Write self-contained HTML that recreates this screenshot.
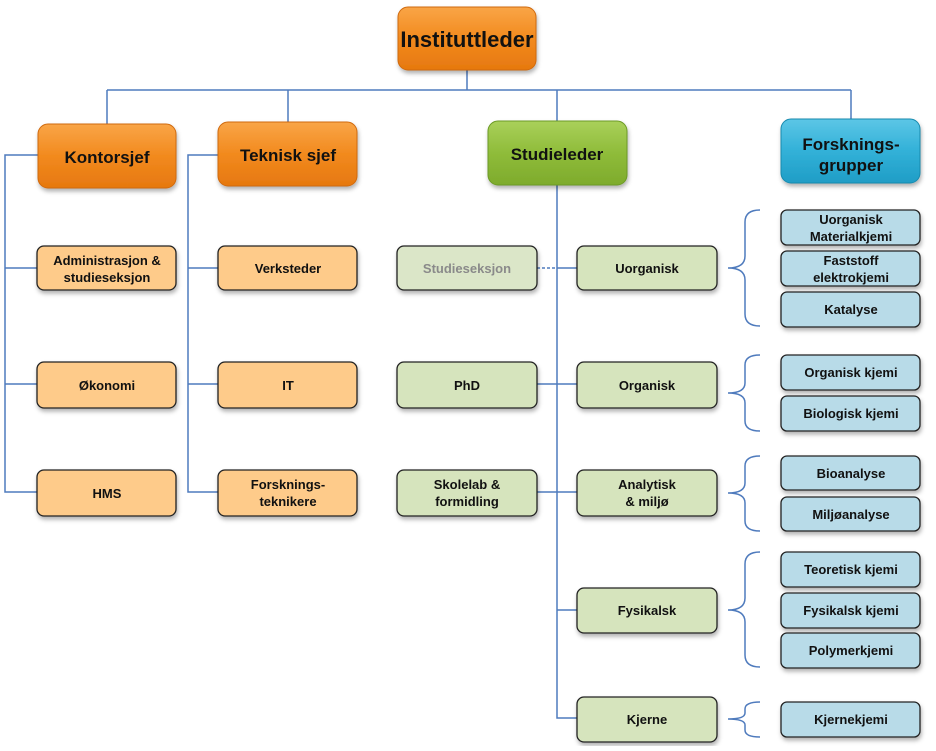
<!DOCTYPE html>
<html><head><meta charset="utf-8"><style>
html,body{margin:0;padding:0;background:#fff;}
svg text{font-family:"Liberation Sans",Arial,sans-serif;font-weight:bold;text-anchor:middle;fill:#111;}
</style></head><body>
<svg width="936" height="746" viewBox="0 0 936 746" xmlns="http://www.w3.org/2000/svg">
<defs>
<linearGradient id="og" x1="0" y1="0" x2="0" y2="1"><stop offset="0" stop-color="#f9a547"/><stop offset="0.5" stop-color="#f28a1e"/><stop offset="1" stop-color="#e6780f"/></linearGradient>
<linearGradient id="gg" x1="0" y1="0" x2="0" y2="1"><stop offset="0" stop-color="#a9d05a"/><stop offset="0.5" stop-color="#8fbc3a"/><stop offset="1" stop-color="#7eab2c"/></linearGradient>
<linearGradient id="bg" x1="0" y1="0" x2="0" y2="1"><stop offset="0" stop-color="#5cc6e6"/><stop offset="0.5" stop-color="#32b1d8"/><stop offset="1" stop-color="#1f9dc6"/></linearGradient>
<filter id="sh" x="-10%" y="-10%" width="130%" height="140%"><feDropShadow dx="1" dy="3" stdDeviation="2" flood-color="#000" flood-opacity="0.3"/></filter>
</defs>
<g stroke="#4f7bbd" stroke-width="1.5" fill="none">
<path d="M467 70V90M107 90H851M107 90V124M288 90V122M557 90V121M851 90V119"/>
<path d="M38 155H5V492H37M5 268H37M5 384H37"/>
<path d="M218 155H188V492H218M188 268H218M188 384H218"/>
<path d="M557 185V718H577M557 268H577M537 384H577M537 492H577M557 610H577"/>
<path d="M537 268H557" stroke-dasharray="3,2"/>
<path d="M760 210Q745 210 745 222V256Q745 268 728 268Q745 268 745 280V314Q745 326 760 326"/>
<path d="M760 355Q745 355 745 365V383Q745 393 728 393Q745 393 745 403V421Q745 431 760 431"/>
<path d="M760 456Q745 456 745 466V483Q745 493 728 493Q745 493 745 503V521Q745 531 760 531"/>
<path d="M760 552Q745 552 745 564V598Q745 610 728 610Q745 610 745 622V655Q745 667 760 667"/>
<path d="M760 702Q745 702 745 709V713Q745 719 728 719Q745 719 745 725V730Q745 737 760 737"/>
</g>
<g filter="url(#sh)" stroke="#d06a10" stroke-width="1">
<rect x="398" y="7" width="138" height="63" rx="10" fill="url(#og)"/>
<rect x="38" y="124" width="138" height="64" rx="10" fill="url(#og)"/>
<rect x="218" y="122" width="139" height="64" rx="10" fill="url(#og)"/>
<rect x="488" y="121" width="139" height="64" rx="10" fill="url(#gg)" stroke="#6c9a25"/>
<rect x="781" y="119" width="139" height="64" rx="10" fill="url(#bg)" stroke="#178aae"/>
</g>
<g filter="url(#sh)" stroke="#222" stroke-width="1.3">
<g fill="#fecb8a">
<rect x="37" y="246" width="139" height="44" rx="7"/>
<rect x="37" y="362" width="139" height="46" rx="7"/>
<rect x="37" y="470" width="139" height="46" rx="7"/>
<rect x="218" y="246" width="139" height="44" rx="7"/>
<rect x="218" y="362" width="139" height="46" rx="7"/>
<rect x="218" y="470" width="139" height="46" rx="7"/>
</g>
<g fill="#d6e4bd">
<rect x="397" y="246" width="140" height="44" rx="7" fill="#dbe6c8"/>
<rect x="397" y="362" width="140" height="46" rx="7"/>
<rect x="397" y="470" width="140" height="46" rx="7"/>
<rect x="577" y="246" width="140" height="44" rx="7"/>
<rect x="577" y="362" width="140" height="46" rx="7"/>
<rect x="577" y="470" width="140" height="46" rx="7"/>
<rect x="577" y="588" width="140" height="45" rx="7"/>
<rect x="577" y="697" width="140" height="45" rx="7"/>
</g>
<g fill="#b8dbe8">
<rect x="781" y="210" width="139" height="35" rx="6"/>
<rect x="781" y="251" width="139" height="35" rx="6"/>
<rect x="781" y="292" width="139" height="35" rx="6"/>
<rect x="781" y="355" width="139" height="35" rx="6"/>
<rect x="781" y="396" width="139" height="35" rx="6"/>
<rect x="781" y="456" width="139" height="34" rx="6"/>
<rect x="781" y="497" width="139" height="34" rx="6"/>
<rect x="781" y="552" width="139" height="35" rx="6"/>
<rect x="781" y="593" width="139" height="35" rx="6"/>
<rect x="781" y="633" width="139" height="35" rx="6"/>
<rect x="781" y="702" width="139" height="35" rx="6"/>
</g>
</g>
<text x="467" y="47" font-size="22">Instituttleder</text>
<text x="107" y="163" font-size="17">Kontorsjef</text>
<text x="288" y="161" font-size="17">Teknisk sjef</text>
<text x="557" y="160" font-size="17">Studieleder</text>
<text x="851" y="150" font-size="17">Forsknings-</text>
<text x="851" y="171" font-size="17">grupper</text>
<g font-size="13">
<text x="107" y="265">Administrasjon &amp;</text><text x="107" y="282">studieseksjon</text>
<text x="107" y="390">Økonomi</text>
<text x="107" y="498">HMS</text>
<text x="288" y="273">Verksteder</text>
<text x="288" y="390">IT</text>
<text x="288" y="489">Forsknings-</text><text x="288" y="506">teknikere</text>
<text x="467" y="273" style="fill:#8a8a8a">Studieseksjon</text>
<text x="467" y="390">PhD</text>
<text x="467" y="489">Skolelab &amp;</text><text x="467" y="506">formidling</text>
<text x="647" y="273">Uorganisk</text>
<text x="647" y="390">Organisk</text>
<text x="647" y="489">Analytisk</text><text x="647" y="506">&amp; miljø</text>
<text x="647" y="615">Fysikalsk</text>
<text x="647" y="724">Kjerne</text>
<text x="851" y="224">Uorganisk</text><text x="851" y="241">Materialkjemi</text>
<text x="851" y="265">Faststoff</text><text x="851" y="282">elektrokjemi</text>
<text x="851" y="314">Katalyse</text>
<text x="851" y="377">Organisk kjemi</text>
<text x="851" y="418">Biologisk kjemi</text>
<text x="851" y="478">Bioanalyse</text>
<text x="851" y="519">Miljøanalyse</text>
<text x="851" y="574">Teoretisk kjemi</text>
<text x="851" y="615">Fysikalsk kjemi</text>
<text x="851" y="655">Polymerkjemi</text>
<text x="851" y="724">Kjernekjemi</text>
</g>
</svg>
</body></html>
